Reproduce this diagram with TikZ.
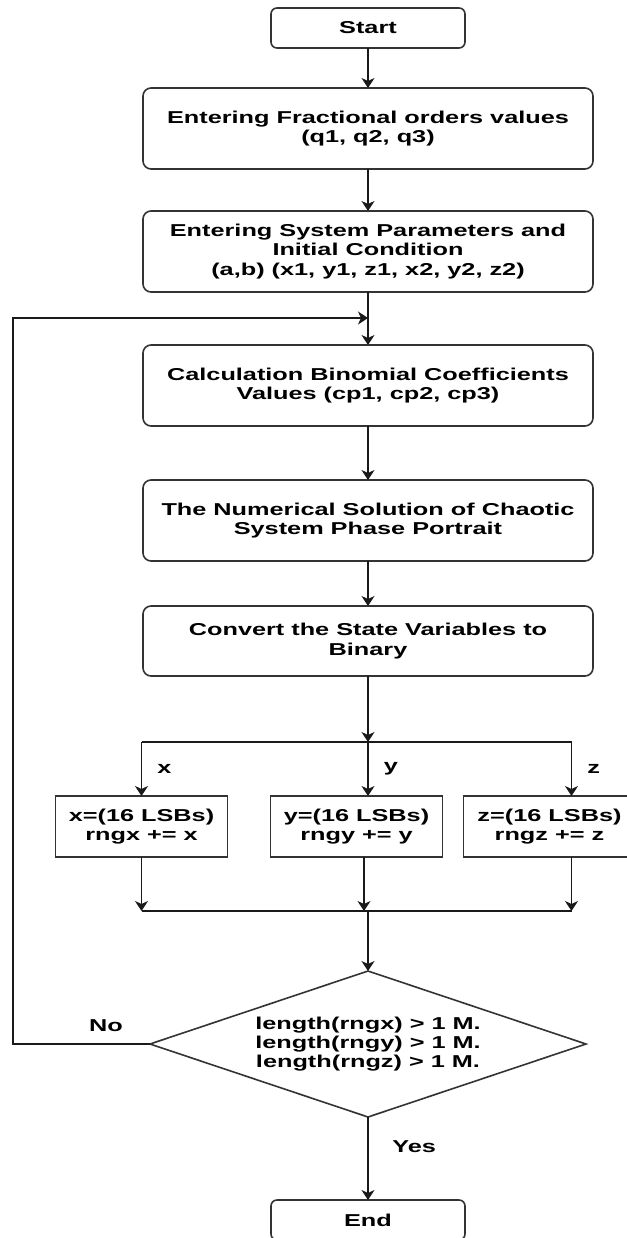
\documentclass[tikz,border=0pt]{standalone}
\usepackage{fontspec}
\setmainfont{Liberation Sans}[FakeStretch=1.47]
\usetikzlibrary{arrows.meta, positioning, shapes.geometric}
\definecolor{fcline}{HTML}{1A1A1A}
\definecolor{fcedge}{HTML}{333333}
\tikzset{
	procbox/.style={draw=fcedge, line width=0.8pt, rounded corners=4pt, align=center,
		font=\fontsize{8.6}{9.6}\selectfont\bfseries, inner sep=2pt, outer sep=0pt,
		minimum width=225pt, minimum height=40.5pt},
	termbox/.style={procbox, rounded corners=3pt, minimum width=97pt, minimum height=20pt},
	varbox/.style={procbox, sharp corners, minimum width=86pt, minimum height=30.5pt},
	decbox/.style={procbox, sharp corners, diamond, shape aspect=3, inner sep=0pt,
		minimum width=218pt, minimum height=73pt},
	farr/.style={-{Stealth[length=5pt, width=6.5pt, inset=1.5pt]}, line width=0.8pt, draw=fcline},
	flbl/.style={font=\fontsize{8.6}{9.6}\selectfont\bfseries, inner sep=0pt}
}

\begin{document}
\begin{tikzpicture}[x=0.5pt, y=-0.5pt]
	\useasboundingbox (0,0) rectangle (627,1238);
	\node[termbox] (start) at (368,28) {Start};
	\node[procbox, below=20pt of start] (orders) {Entering Fractional orders values\\(q1, q2, q3)};
	\node[procbox, below=21pt of orders] (params) {Entering System Parameters and\\Initial Condition\\(a,b) (x1, y1, z1, x2, y2, z2)};
	\node[procbox, below=26.5pt of params] (binom) {Calculation Binomial Coefficients\\Values (cp1, cp2, cp3)};
	\node[procbox, below=27pt of binom] (solve) {The Numerical Solution of Chaotic\\System Phase Portrait};
	\node[procbox, minimum height=35pt, below=22.5pt of solve] (conv) {Convert the State Variables to\\Binary};
	\node[varbox, below=60pt of conv, xshift=-5.75pt] (ybox) {y=(16 LSBs)\\rngy += y};
	\node[varbox, left=21.5pt of ybox] (xbox) {x=(16 LSBs)\\rngx += x};
	\node[varbox, right=10.5pt of ybox] (zbox) {z=(16 LSBs)\\rngz += z};
	\node[decbox, below=147.5pt of conv] (dec) {length(rngx) > 1 M.\\length(rngy) > 1 M.\\length(rngz) > 1 M.};
	\node[termbox, below=41.5pt of dec] (end) {End};
	\coordinate (split) at ([yshift=-33pt]conv.south);
	\coordinate (merge) at ([yshift=30pt]dec.north);
	\coordinate (loop) at ([yshift=-13pt]params.south);
	\coordinate (zin) at ([xshift=11pt]zbox.north);
	\coordinate (zout) at ([xshift=11pt]zbox.south);
	\coordinate (yout) at ([xshift=3.75pt]ybox.south);
	\draw[farr] (start) -- (orders);
	\draw[farr] (orders) -- (params);
	\draw[farr] (params) -- (binom);
	\draw[farr] (binom) -- (solve);
	\draw[farr] (solve) -- (conv);
	\draw[farr] (conv) -- (split);
	\draw[farr, -] (split -| xbox) -- (split -| zin);
	\draw[farr] (split -| xbox) -- node[flbl, right=7.5pt] (lx) {x} (xbox);
	\draw[farr] (split) -- node[flbl, right=7.5pt] (ly) {y} (split |- ybox.north);
	\draw[farr] (split -| zin) -- node[flbl, right=7.5pt] (lz) {z} (zin);
	\draw[farr] (xbox) -- (xbox |- merge);
	\draw[farr] (yout) -- (yout |- merge);
	\draw[farr] (zout) -- (zout |- merge);
	\draw[farr, -] (xbox |- merge) -- (zout |- merge);
	\draw[farr] (merge) -- (dec);
	\draw[farr] (dec.west) -- ++(-68.5pt,0) |- (loop);
	\node[flbl] (no) at ([xshift=-22pt, yshift=9pt]dec.west) {No};
	\draw[farr] (dec) -- node[flbl, right=11.75pt, yshift=6pt] (yes) {Yes} (end);
\end{tikzpicture}
\end{document}
